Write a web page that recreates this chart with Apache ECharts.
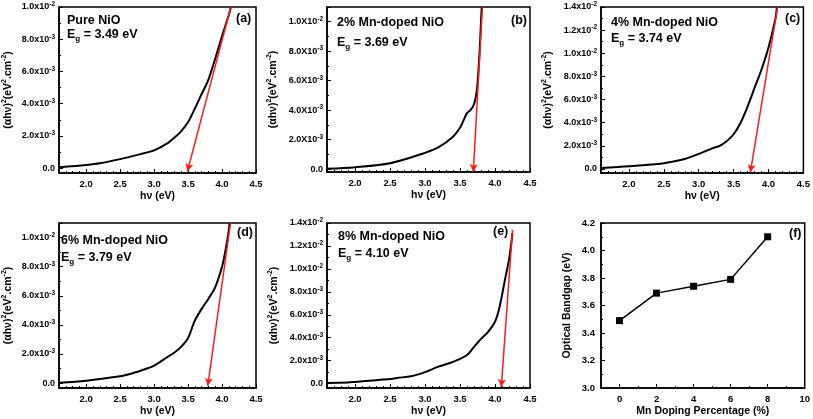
<!DOCTYPE html>
<html><head><meta charset="utf-8">
<script src="https://cdn.jsdelivr.net/npm/echarts@6/dist/echarts.min.js"></script>
<style>html,body{margin:0;padding:0;background:#fff}#c{width:813px;height:419px}</style>
</head><body><div id="c"></div>
<script>
// ---- data ----
const hvA = [1.6,2.0,2.2,2.5,2.8,3.0,3.2,3.3,3.4,3.5,3.6,3.7,3.8,3.9,4.0,4.1,4.13];
const ahvA = [0.00006,0.0002,0.0003,0.00056,0.00087,0.0011,0.00155,0.0019,0.0023,0.00286,0.0037,0.0046,0.0055,0.0068,0.0082,0.0095,0.01];
const hvB = [1.6,2.0,2.5,3.0,3.2,3.4,3.5,3.55,3.6,3.65,3.7,3.73,3.75,3.78,3.8,3.81];
const ahvB = [0.00002,0.00013,0.0004,0.0011,0.0015,0.0022,0.0028,0.0033,0.0038,0.0040,0.0044,0.0050,0.0058,0.0080,0.0100,0.011];
const hvC = [1.6,2.0,2.5,2.8,3.0,3.2,3.3,3.4,3.5,3.6,3.7,3.8,3.9,4.0,4.1,4.12];
const ahvC = [0.00009,0.00023,0.0005,0.00086,0.0013,0.0018,0.002,0.0024,0.003,0.004,0.0054,0.007,0.0086,0.0105,0.013,0.014];
const hvD = [1.6,2.0,2.5,2.6,2.8,3.0,3.2,3.3,3.4,3.5,3.6,3.7,3.8,3.9,4.0,4.05,4.1,4.11];
const ahvD = [0.00002,0.00016,0.00046,0.00057,0.00085,0.0012,0.0018,0.0021,0.0025,0.0031,0.0043,0.0051,0.0058,0.0066,0.008,0.0091,0.0105,0.011];
const hvE = [1.6,1.9,2.0,2.3,2.5,2.6,2.8,3.0,3.2,3.4,3.6,3.7,3.8,3.9,4.0,4.05,4.1,4.15,4.2,4.25];
const ahvE = [0.00006,0.0001,0.00015,0.0003,0.0004,0.0005,0.00064,0.001,0.0015,0.0019,0.0025,0.0032,0.0039,0.0045,0.0054,0.0063,0.0077,0.0093,0.0108,0.0131];
// Tauc fit lines [top point, intercept point]
const fitA = [[4.13,0.01],[3.49,-0.0002]];
const fitB = [[3.82,0.011],[3.69,-0.0002]];
const fitC = [[4.13,0.014],[3.74,-0.0003]];
const fitD = [[4.125,0.011],[3.79,-0.0002]];
const fitE = [[4.25,0.0134],[4.09,-0.0003]];
// panel f
const mnPct = [0,2,4,6,8];
const bandgap = [3.49,3.69,3.74,3.79,4.10];
// labels
const sampleNames = ['Pure NiO','2% Mn-doped NiO','4% Mn-doped NiO','6% Mn-doped NiO','8% Mn-doped NiO'];
const egTexts = ['3.49 eV','3.69 eV','3.74 eV','3.79 eV','4.10 eV'];
const panelTags = ['(a)','(b)','(c)','(d)','(e)','(f)'];
// tick labels
const xTicks = [2.0,2.5,3.0,3.5,4.0,4.5];
const xTickLabels = ['2.0','2.5','3.0','3.5','4.0','4.5'];
const yTicks10 = [0,0.002,0.004,0.006,0.008,0.010];
const yLabels10 = ['0.0','2.0x10{s|-3}','4.0x10{s|-3}','6.0x10{s|-3}','8.0x10{s|-3}','1.0x10{s|-2}'];
const yLabels10X = ['0.0','2.0X10{s|-3}','4.0X10{s|-3}','6.0X10{s|-3}','8.0X10{s|-3}','1.0X10{s|-2}'];
const yTicks14 = [0,0.002,0.004,0.006,0.008,0.010,0.012,0.014];
const yLabels14 = ['0.0','2.0x10{s|-3}','4.0x10{s|-3}','6.0x10{s|-3}','8.0x10{s|-3}','1.0x10{s|-2}','1.2x10{s|-2}','1.4x10{s|-2}'];
const fXTicks = [0,2,4,6,8,10];
const fXLabels = ['0','2','4','6','8','10'];
const fYTicks = [3.0,3.2,3.4,3.6,3.8,4.0,4.2];
const fYLabels = ['3.0','3.2','3.4','3.6','3.8','4.0','4.2'];

const FONT = 'Liberation Sans';
function lookup(ticks, labels){
  return v => { const i = ticks.findIndex(t => Math.abs(t - v) < 1e-7); return i < 0 ? '' : labels[i]; };
}
const grids = [
  {left:52, top:7, width:204, height:166},
  {left:327, top:7, width:203, height:165},
  {left:601, top:7, width:203, height:166},
  {left:52, top:223, width:204, height:165},
  {left:327, top:223, width:203, height:165},
  {left:601, top:223, width:204, height:165}
].map(g => Object.assign({show:true, borderColor:'#000', borderWidth:1.5, backgroundColor:'transparent'}, g));

const supRich = {s:{fontSize:6.5, fontWeight:'bold', fontFamily:FONT, color:'#000', verticalAlign:'top', lineHeight:6}};
function baseAxis(){
  return {
    axisLine:{show:true, onZero:false, lineStyle:{color:'#000', width:1.5}},
    axisTick:{show:true, inside:true, length:4, lineStyle:{color:'#000', width:1}},
    splitLine:{show:false},
  };
}
function xAx(idx){
  return Object.assign(baseAxis(), {
    type:'value', gridIndex:idx, min:1.6, max:4.5, splitNumber:6,
    minorTick:{show:true, splitNumber:5, length:2, lineStyle:{color:'#000', width:1}},
    axisLabel:{color:'#000', fontSize:9.5, fontWeight:'bold', fontFamily:FONT, margin:6, formatter:lookup(xTicks, xTickLabels)},
    name:'hν (eV)', nameLocation:'middle', nameGap:18,
    nameTextStyle:{color:'#000', fontSize:10.5, fontWeight:'bold', fontFamily:FONT}
  });
}
function yAx(idx, min, max, split, ticks, labels){
  return Object.assign(baseAxis(), {
    type:'value', gridIndex:idx, min:min, max:max, splitNumber:split,
    minorTick:{show:true, splitNumber:2, length:2, lineStyle:{color:'#000', width:1}},
    axisLabel:{color:'#000', fontSize:9, fontWeight:'bold', fontFamily:FONT, margin:4, lineHeight:12,
      formatter:lookup(ticks, labels), rich:supRich},
    name:'(αhν){s|2}(eV{s|2}.cm{s|-2})', nameLocation:'middle', nameGap:44,
    nameTextStyle:{color:'#000', fontSize:10.5, fontWeight:'bold', fontFamily:FONT, lineHeight:14,
      rich:{s:{fontSize:7, fontWeight:'bold', fontFamily:FONT, color:'#000', verticalAlign:'top', lineHeight:7}}}
  });
}
const xAxes = [xAx(0), xAx(1), xAx(2), xAx(3), xAx(4)];
xAxes.push(Object.assign(baseAxis(), {
  type:'value', gridIndex:5, min:-1, max:10, splitNumber:5,
  minorTick:{show:true, splitNumber:2, length:2, lineStyle:{color:'#000', width:1}},
  axisLabel:{color:'#000', fontSize:9.5, fontWeight:'bold', fontFamily:FONT, margin:6, formatter:lookup(fXTicks, fXLabels)},
  name:'Mn Doping Percentage (%)', nameLocation:'middle', nameGap:18,
  nameTextStyle:{color:'#000', fontSize:10.5, fontWeight:'bold', fontFamily:FONT}
}));
const yAxes = [
  yAx(0, -0.0003, 0.010, 5, yTicks10, yLabels10),
  yAx(1, -0.0002, 0.011, 5, yTicks10, yLabels10X),
  yAx(2, -0.00035, 0.014, 7, yTicks14, yLabels14),
  yAx(3, -0.00034, 0.011, 5, yTicks10, yLabels10),
  yAx(4, -0.00038, 0.014, 7, yTicks14, yLabels14),
];
yAxes[2].nameGap = 46; yAxes[4].nameGap = 46; yAxes[1].nameGap = 47;
yAxes.push(Object.assign(baseAxis(), {
  type:'value', gridIndex:5, min:3.0, max:4.2, interval:0.2,
  minorTick:{show:true, splitNumber:2, length:2, lineStyle:{color:'#000', width:1}},
  axisLabel:{color:'#000', fontSize:9.5, fontWeight:'bold', fontFamily:FONT, margin:6, formatter:lookup(fYTicks, fYLabels)},
  name:'Optical Bandgap (eV)', nameLocation:'middle', nameGap:28,
  nameTextStyle:{color:'#000', fontSize:10.5, fontWeight:'bold', fontFamily:FONT}
}));

const curves = [[hvA,ahvA],[hvB,ahvB],[hvC,ahvC],[hvD,ahvD],[hvE,ahvE]];
const fits = [fitA, fitB, fitC, fitD, fitE];
const series = [];
curves.forEach((c, i) => {
  series.push({
    type:'line', xAxisIndex:i, yAxisIndex:i, data:c[0].map((x, k) => [x, c[1][k]]),
    smooth:0.3, showSymbol:false, symbol:'none', clip:true, silent:true,
    lineStyle:{color:'#000', width:2}, z:2,
    markLine:{silent:true, symbol:['none','arrow'], symbolSize:[6,8], label:{show:false},
      lineStyle:{color:'#ff1a1a', width:1.5, type:'solid'}, animation:false,
      data:[[{coord:fits[i][0]},{coord:fits[i][1]}]]}
  });
});
series.push({
  type:'line', xAxisIndex:5, yAxisIndex:5, data:mnPct.map((x, k) => [x, bandgap[k]]),
  symbol:'rect', symbolSize:7, itemStyle:{color:'#000'}, lineStyle:{color:'#000', width:1.5}, silent:true
});

const textPos = [
  {name:[67,22], eg:[67,36], tag:[236,20]},
  {name:[337,24], eg:[337,44], tag:[511,22]},
  {name:[611,24], eg:[611,40], tag:[785,20]},
  {name:[61,242], eg:[61,259], tag:[237,234]},
  {name:[338,238], eg:[338,255], tag:[493,233]},
];
const graphic = [];
const txtBase = {fill:'#000', fontFamily:FONT, fontWeight:'bold', fontSize:12.5, verticalAlign:'middle', align:'left'};
textPos.forEach((p, i) => {
  graphic.push({type:'text', left:p.name[0], top:p.name[1]-8, style:Object.assign({}, txtBase, {text:sampleNames[i]})});
  graphic.push({type:'text', left:p.eg[0], top:p.eg[1]-8, style:Object.assign({}, txtBase, {
    text:'E{sub|g} = ' + egTexts[i],
    rich:{sub:{fontSize:8, fontWeight:'bold', fontFamily:FONT, fill:'#000', verticalAlign:'bottom', padding:[8,0,0,0]}}
  })});
  graphic.push({type:'text', left:p.tag[0], top:p.tag[1]-8, style:Object.assign({}, txtBase, {text:panelTags[i]})});
});
graphic.push({type:'text', left:789, top:227, style:Object.assign({}, txtBase, {text:panelTags[5]})});

const chart = echarts.init(document.getElementById('c'), null, {renderer:'canvas'});
chart.setOption({
  animation:false, backgroundColor:'#fff',
  grid:grids, xAxis:xAxes, yAxis:yAxes, series:series, graphic:graphic
});
</script></body></html>
